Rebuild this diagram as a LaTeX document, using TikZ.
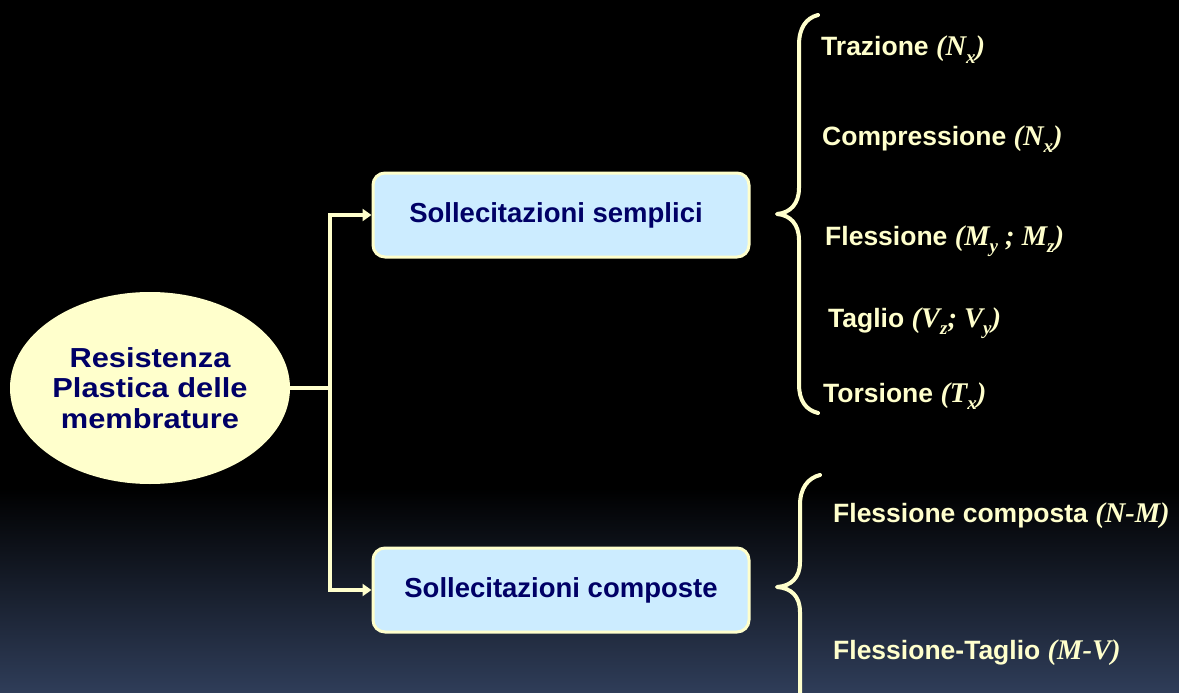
\documentclass[tikz,border=0pt]{standalone}
\usepackage{fontspec}
\setmainfont{Liberation Sans}
\newfontfamily\tms{Liberation Serif}
\newfontfamily\widesans[FakeStretch=1.12]{Liberation Sans}
\usetikzlibrary{shapes.geometric,arrows.meta}
\definecolor{cream}{HTML}{FFFFCC}
\definecolor{navy}{HTML}{000066}
\definecolor{boxblue}{HTML}{CCECFF}
\definecolor{bgbot}{RGB}{47,61,89}
\newcommand\sbs[1]{\raisebox{-0.28em}{\fontsize{19}{19}\selectfont #1}}
\newcommand\mth[1]{{\tms\fontsize{28.5}{30}\selectfont\bfseries\itshape #1}}
\tikzset{
  x=1pt, y=-1pt,
  conn/.style={draw=cream, line width=3.5pt},
  tip/.style={-{Triangle[length=9pt,width=12pt]}},
  brace/.style={draw=cream, line width=4pt, line cap=round, line join=round},
  boxnode/.style={draw=cream, line width=3pt, fill=boxblue, rounded corners=12pt,
    minimum width=376pt, minimum height=84pt, inner sep=0pt, text=navy,
    font=\fontsize{27.5}{30}\selectfont\bfseries},
  lbl/.style={anchor=base west, inner sep=0pt, text=cream,
    font=\fontsize{26.5}{30}\selectfont\bfseries},
}
\begin{document}
\begin{tikzpicture}
\useasboundingbox (0,0) rectangle (1179,693);
\fill[black] (0,0) rectangle (1179,693);
\shade[top color=black, bottom color=bgbot] (0,488) rectangle (1179,693);

% ellipse
\node[ellipse, fill=cream, minimum width=280pt, minimum height=192pt, inner sep=0pt,
  text=navy, align=center, font=\widesans\fontsize{27.5}{30.5}\selectfont\bfseries]
  (e) at (150,388) {Resistenza\\Plastica delle\\membrature};

% boxes
\node[boxnode] (b1) at (561,215) {\hspace*{-10pt}Sollecitazioni semplici};
\node[boxnode] (b2) at (561,590) {Sollecitazioni composte};

% connectors
\coordinate (j) at (330,388);
\draw[conn] (e.east) -- (j);
\draw[conn, tip] (j) |- (b1.west);
\draw[conn, tip] (j) |- (b2.west);

% braces
\draw[brace] (818,15) .. controls (806,18) and (799,28) .. (799,45) -- (799,188)
  .. controls (799,204) and (790,213) .. (777,214)
  .. controls (790,215) and (799,224) .. (799,240) -- (799,384)
  .. controls (799,401) and (806,410) .. (818,413);
\draw[brace] (820,475) .. controls (808,478) and (800,488) .. (800,505) -- (800,562)
  .. controls (800,578) and (791,586) .. (777,587)
  .. controls (791,588) and (800,596) .. (800,612) -- (800,700);

% labels
\node[lbl] (t1) at (821,56) {Trazione \mth{(N\sbs{x})}};
\node[lbl] (t2) at (822,145) {Compressione \mth{(N\sbs{x})}};
\node[lbl] (t3) at (825,245) {Flessione \mth{(M\sbs{y} ; M\sbs{z})}};
\node[lbl] (t4) at (828,327) {Taglio \mth{(V\sbs{z}; V\sbs{y})}};
\node[lbl] (t5) at (823,402) {Torsione \mth{(T\sbs{x})}};
\node[lbl] (t6) at (833,522) {Flessione composta \mth{(N-M)}};
\node[lbl] (t7) at (833,659) {Flessione-Taglio \mth{(M-V)}};
\end{tikzpicture}
\end{document}
